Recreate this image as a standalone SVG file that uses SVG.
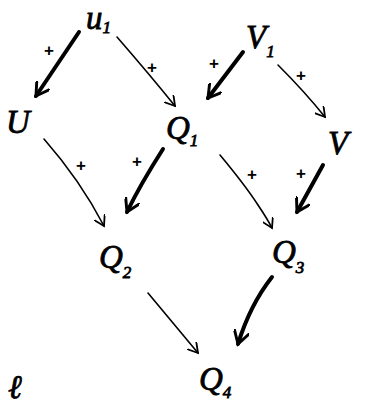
<svg xmlns="http://www.w3.org/2000/svg" width="368" height="407" viewBox="0 0 368 407">
<style>
.lbl{font-family:"Liberation Serif",serif;font-style:italic;font-size:33px;fill:#000;stroke:#000;stroke-width:0.8}
.sub{font-size:17px}
.star{font-family:"Liberation Sans",sans-serif;font-size:17px;font-weight:bold;fill:#000;text-anchor:middle}
.thick{stroke:#000;stroke-width:4;fill:none;stroke-linecap:round}
.thin{stroke:#000;stroke-width:1.6;fill:none;stroke-linecap:round}
</style>
<defs>
<marker id="ah" viewBox="0 0 12 12" refX="10" refY="6" markerWidth="12" markerHeight="12" markerUnits="userSpaceOnUse" orient="auto">
<polyline points="0,0 10,6 0,12" fill="none" stroke="#000" stroke-width="1.8" stroke-linecap="round"/>
</marker>
<marker id="ahb" viewBox="0 0 12 12" refX="10" refY="6" markerWidth="16" markerHeight="16" markerUnits="userSpaceOnUse" orient="auto">
<polyline points="0,0 10,6 0,12" fill="none" stroke="#000" stroke-width="2.2" stroke-linecap="round"/>
</marker>
</defs>
<g id="connectors">
<path class="thick" d="M79,32 L36,96" marker-end="url(#ahb)"/>
<text class="star" x="49" y="56">+</text>
<path class="thin" d="M117,37 Q150,75 175,106" marker-end="url(#ah)"/>
<text class="star" x="152" y="73">+</text>
<path class="thick" d="M243,52 L208,98" marker-end="url(#ahb)"/>
<text class="star" x="214" y="69">+</text>
<path class="thin" d="M278,65 Q305,92 325,117" marker-end="url(#ah)"/>
<text class="star" x="301" y="81">+</text>
<path class="thin" d="M44,139 Q80,180 104,226" marker-end="url(#ah)"/>
<text class="star" x="81" y="171">+</text>
<path class="thick" d="M163,149 Q140,185 127,212" marker-end="url(#ahb)"/>
<text class="star" x="137" y="167">+</text>
<path class="thin" d="M220,155 Q245,185 258,205 Q268,220 272,228" marker-end="url(#ah)"/>
<text class="star" x="252" y="180">+</text>
<path class="thick" d="M323,165 L297,212" marker-end="url(#ahb)"/>
<text class="star" x="301" y="179">+</text>
<path class="thin" d="M148,293 L198,353" marker-end="url(#ah)"/>
<path class="thick" d="M272,277 Q250,305 238,344" marker-end="url(#ahb)"/>
</g>
<g id="u1"><text class="lbl" x="86" y="29">u<tspan class="sub" dy="4">1</tspan></text></g>
<g id="V1"><text class="lbl" x="246" y="48">V<tspan class="sub" dy="9">1</tspan></text></g>
<g id="U"><text class="lbl" x="6" y="133">U</text></g>
<g id="Q1"><text class="lbl" x="166" y="139">Q<tspan class="sub" dy="7">1</tspan></text></g>
<g id="V"><text class="lbl" x="328" y="154">V</text></g>
<g id="Q2"><text class="lbl" x="99" y="268">Q<tspan class="sub" dy="10">2</tspan></text></g>
<g id="Q3"><text class="lbl" x="272" y="263">Q<tspan class="sub" dy="10">3</tspan></text></g>
<g id="Q4"><text class="lbl" x="199" y="390">Q<tspan class="sub" dy="8">4</tspan></text></g>
<g id="l"><text class="lbl" x="8" y="398">ℓ</text></g>
</svg>
